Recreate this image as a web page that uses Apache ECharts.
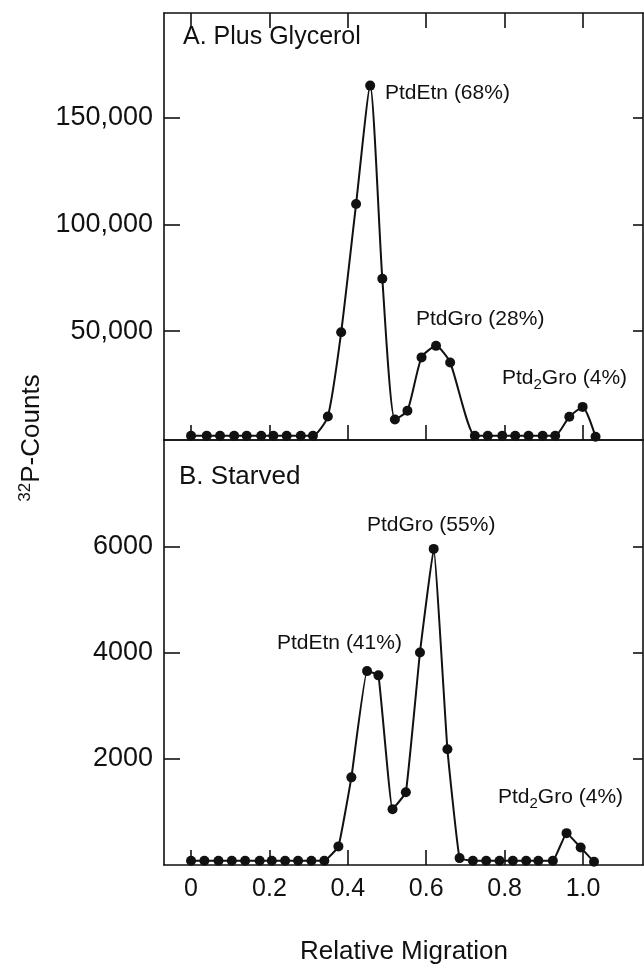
<!DOCTYPE html>
<html>
<head>
<meta charset="utf-8">
<script src="https://cdn.jsdelivr.net/npm/echarts@6/dist/echarts.min.js"></script>
<style>
  html, body { margin: 0; padding: 0; background: #fff; }
  #main { width: 644px; height: 964px; }
</style>
</head>
<body>
<div id="main"></div>
<script>
// relative migration of each slice
var xA = [0, 0.040, 0.074, 0.110, 0.142, 0.179, 0.210, 0.244, 0.280, 0.311,
          0.349, 0.383, 0.421, 0.457, 0.488, 0.520, 0.552, 0.588, 0.625, 0.661,
          0.724, 0.757, 0.794, 0.827, 0.861, 0.897, 0.929, 0.965, 0.999, 1.032];
// A. Plus Glycerol, 32P counts
var countsA = [1000, 1000, 1000, 1000, 1000, 1000, 1000, 1000, 1000, 1000,
               10000, 49500, 109500, 165000, 74500, 8600, 12700, 37700, 43100, 35300,
               1000, 1000, 1000, 1000, 1000, 1000, 1000, 9900, 14500, 500];

var xB = [0, 0.034, 0.070, 0.104, 0.138, 0.175, 0.206, 0.240, 0.273, 0.307, 0.340,
          0.376, 0.409, 0.449, 0.478, 0.514, 0.548, 0.584, 0.619, 0.654, 0.685,
          0.719, 0.753, 0.787, 0.821, 0.855, 0.886, 0.923, 0.958, 0.994, 1.028];
// B. Starved, 32P counts
var countsB = [80, 80, 80, 80, 80, 80, 80, 80, 80, 80, 80,
               350, 1650, 3650, 3570, 1050, 1370, 4000, 5950, 2180, 130,
               80, 80, 80, 80, 80, 80, 80, 600, 330, 60];

var xTicks = [0, 0.2, 0.4, 0.6, 0.8, 1.0];
var yTicksA = [50000, 100000, 150000];
var yTicksB = [2000, 4000, 6000];

var font = 'Liberation Sans';
var ink = '#111';

function pairs(xs, ys) {
  return xs.map(function (x, i) { return [x, ys[i]]; });
}

function xAxisOf(grid, pos, ticks, labels) {
  return {
    type: 'value', gridIndex: grid, position: pos,
    min: -0.069, max: 1.153,
    splitLine: { show: false },
    axisLine: { show: true, onZero: false, lineStyle: { color: ink, width: 1.6 } },
    axisTick: { show: ticks, inside: true, length: 15, customValues: xTicks,
                lineStyle: { color: ink, width: 1.6 } },
    axisLabel: { show: labels, customValues: xTicks, margin: 12,
                 fontFamily: font, fontSize: 25, color: ink,
                 formatter: function (v) { return v === 0 ? '0' : v.toFixed(1); } }
  };
}

function yAxisOf(grid, pos, min, max, ticks, labels, len) {
  return {
    type: 'value', gridIndex: grid, position: pos,
    min: min, max: max,
    splitLine: { show: false },
    axisLine: { show: true, onZero: false, lineStyle: { color: ink, width: 1.6 } },
    axisTick: { show: true, inside: true, length: len, customValues: ticks,
                lineStyle: { color: ink, width: 1.6 } },
    axisLabel: { show: labels, customValues: ticks, margin: 11,
                 fontFamily: font, fontSize: 27, color: ink,
                 formatter: function (v) { return v >= 10000 ? v.toLocaleString('en-US') : String(v); } }
  };
}

var chart = echarts.init(document.getElementById('main'));

var annoStyle = { fontFamily: font, fontSize: 21, fill: ink };
var ptd2Rich = {
  a: { fontFamily: font, fontSize: 21, lineHeight: 28, fill: ink },
  s: { fontFamily: font, fontSize: 15, lineHeight: 14, verticalAlign: 'bottom', fill: ink }
};

chart.setOption({
  animation: false,
  backgroundColor: '#fff',
  grid: [
    { left: 164, right: 1, top: 13, height: 427 },
    { left: 164, right: 1, top: 440, height: 425 }
  ],
  xAxis: [
    xAxisOf(0, 'bottom', true, false),
    xAxisOf(0, 'top', true, false),
    xAxisOf(1, 'bottom', true, true),
    xAxisOf(1, 'top', false, false)
  ],
  yAxis: [
    yAxisOf(0, 'left', -1000, 199000, yTicksA, true, 16),
    yAxisOf(0, 'right', -1000, 199000, yTicksA, false, 10),
    yAxisOf(1, 'left', 0, 8000, yTicksB, true, 16),
    yAxisOf(1, 'right', 0, 8000, yTicksB, false, 10)
  ],
  series: [
    {
      name: 'Plus Glycerol', type: 'line', xAxisIndex: 0, yAxisIndex: 0,
      data: pairs(xA, countsA), smooth: 0.2,
      symbol: 'circle', symbolSize: 10,
      lineStyle: { color: ink, width: 2 }, itemStyle: { color: ink }
    },
    {
      name: 'Starved', type: 'line', xAxisIndex: 2, yAxisIndex: 2,
      data: pairs(xB, countsB), smooth: 0.1,
      symbol: 'circle', symbolSize: 10,
      lineStyle: { color: ink, width: 2 }, itemStyle: { color: ink }
    }
  ],
  graphic: [
    { type: 'text', left: 183, top: 25,
      style: { text: 'A. Plus Glycerol', fontFamily: font, fontSize: 25, fill: ink } },
    { type: 'text', left: 179, top: 464,
      style: { text: 'B. Starved', fontFamily: font, fontSize: 26, fill: ink } },
    { type: 'text', left: 385, top: 83, style: Object.assign({ text: 'PtdEtn (68%)' }, annoStyle) },
    { type: 'text', left: 416, top: 309, style: Object.assign({ text: 'PtdGro (28%)' }, annoStyle) },
    { type: 'text', left: 502, top: 368,
      style: { text: '{a|Ptd}{s|2}{a|Gro (4%)}', rich: ptd2Rich } },
    { type: 'text', left: 367, top: 515, style: Object.assign({ text: 'PtdGro (55%)' }, annoStyle) },
    { type: 'text', left: 277, top: 633, style: Object.assign({ text: 'PtdEtn (41%)' }, annoStyle) },
    { type: 'text', left: 498, top: 787,
      style: { text: '{a|Ptd}{s|2}{a|Gro (4%)}', rich: ptd2Rich } },
    { type: 'text', x: 32, y: 438, rotation: Math.PI / 2,
      style: {
        text: '{s|32}{a|P-Counts}', align: 'center', verticalAlign: 'middle',
        rich: {
          a: { fontFamily: font, fontSize: 26, lineHeight: 30, fill: ink },
          s: { fontFamily: font, fontSize: 17, lineHeight: 16, verticalAlign: 'top', fill: ink }
        }
      } },
    { type: 'text', x: 404, y: 952,
      style: { text: 'Relative Migration', align: 'center', verticalAlign: 'middle',
               fontFamily: font, fontSize: 26, fill: ink } }
  ]
});
</script>
</body>
</html>
